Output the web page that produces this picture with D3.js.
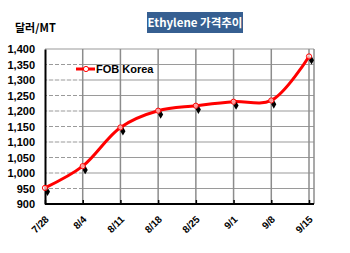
<!DOCTYPE html>
<html>
<head>
<meta charset="utf-8">
<script src="https://cdn.jsdelivr.net/npm/d3@7"></script>
<style>
  body { margin: 0; background: #fff; }
  svg { display: block; font-family: "Liberation Sans", Arial, sans-serif; }
</style>
</head>
<body>
<svg id="chart" width="350" height="253"></svg>
<script>
// chart data
const dates = ['7/28', '8/4', '8/11', '8/18', '8/25', '9/1', '9/8', '9/15'];
const fobKorea = [952, 1022, 1147, 1201, 1217, 1230, 1234, 1376];
const yTicks = [900, 950, 1000, 1050, 1100, 1150, 1200, 1250, 1300, 1350, 1400];

const svg = d3.select('#chart');

// plot area
const plotLeft = 45, plotRight = 309, plotTop = 49, plotBottom = 204, frameRight = 314;

const x = d3.scalePoint().domain(dates).range([plotLeft, plotRight]);
const y = d3.scaleLinear().domain([900, 1400]).range([plotBottom, plotTop]);

// horizontal grid lines
svg.append('g')
    .selectAll('line')
    .data(yTicks.slice(1))
    .enter().append('line')
    .attr('x1', plotLeft).attr('x2', frameRight)
    .attr('y1', d => y(d)).attr('y2', d => y(d))
    .attr('stroke', '#9a9a9a')
    .attr('stroke-width', 1.2);

// dashed look in the first column
svg.append('g')
    .selectAll('line')
    .data(yTicks.slice(1, -1))
    .enter().append('line')
    .attr('x1', plotLeft + 2).attr('x2', x('8/4') - 2)
    .attr('y1', d => y(d)).attr('y2', d => y(d))
    .attr('stroke', '#fff')
    .attr('stroke-width', 1.4)
    .attr('stroke-dasharray', '2,4');

// vertical grid lines
svg.append('g')
    .selectAll('line')
    .data(dates.slice(1))
    .enter().append('line')
    .attr('x1', d => x(d)).attr('x2', d => x(d))
    .attr('y1', plotTop).attr('y2', plotBottom)
    .attr('stroke', '#8c8c8c')
    .attr('stroke-width', 1.5);

// right frame
svg.append('line')
    .attr('x1', frameRight).attr('x2', frameRight)
    .attr('y1', plotTop).attr('y2', plotBottom)
    .attr('stroke', '#8c8c8c')
    .attr('stroke-width', 1.5);

// axes
const yAxis = svg.append('g')
    .attr('transform', `translate(${plotLeft},0)`)
    .call(d3.axisLeft(y).tickValues(yTicks).tickSize(0).tickPadding(10)
        .tickFormat(d3.format(',')));
yAxis.select('.domain').attr('stroke', '#000').attr('stroke-width', 2);
yAxis.selectAll('text')
    .style('font-size', '11px')
    .style('font-weight', 'bold')
    .attr('fill', '#000');

const xAxis = svg.append('g')
    .attr('transform', `translate(0,${plotBottom})`)
    .call(d3.axisBottom(x).tickSize(-4).tickPadding(0));
xAxis.select('.domain').attr('d', `M${plotLeft},0H${frameRight}`)
    .attr('stroke', '#000').attr('stroke-width', 2);
xAxis.selectAll('.tick line').attr('stroke', '#000').attr('stroke-width', 1.5);
xAxis.selectAll('text')
    .attr('y', 0).attr('dy', 0)
    .attr('transform', 'translate(4,16) rotate(-45)')
    .attr('text-anchor', 'end')
    .style('font-size', '10px')
    .style('font-weight', 'bold')
    .attr('fill', '#000');

// smoothed red line
const line = d3.line()
    .x((d, i) => x(dates[i]))
    .y(d => y(d))
    .curve(d3.curveCatmullRom.alpha(0.5));

svg.append('path')
    .datum(fobKorea)
    .attr('fill', 'none')
    .attr('stroke', '#ff0000')
    .attr('stroke-width', 3)
    .attr('d', line);

// black shadow markers
svg.append('g')
    .selectAll('path')
    .data(fobKorea)
    .enter().append('path')
    .attr('d', d3.symbol().type(d3.symbolDiamond).size(22))
    .attr('transform', (d, i) => `translate(${x(dates[i]) + 2.5},${y(d) + 3.8})`)
    .attr('fill', '#000');

// open circle markers
svg.append('g')
    .selectAll('circle')
    .data(fobKorea)
    .enter().append('circle')
    .attr('cx', (d, i) => x(dates[i]))
    .attr('cy', d => y(d))
    .attr('r', 2.6)
    .attr('fill', '#fff')
    .attr('fill-opacity', 0.6)
    .attr('stroke', '#ff0000')
    .attr('stroke-width', 1);

// legend
const legend = svg.append('g').attr('transform', 'translate(76,69)');
legend.append('line')
    .attr('x1', 0).attr('x2', 19)
    .attr('stroke', '#ff0000').attr('stroke-width', 3);
legend.append('circle')
    .attr('cx', 10).attr('r', 2.6)
    .attr('fill', '#fff').attr('stroke', '#ff0000').attr('stroke-width', 1);
legend.append('text')
    .attr('x', 20).attr('dy', '0.35em')
    .style('font-size', '11px')
    .style('font-weight', 'bold')
    .text('FOB Korea');

// unit label
svg.append('text')
    .attr('x', 15).attr('y', 32)
    .style('font-family', '"Noto Sans CJK KR", sans-serif')
    .style('font-size', '11px')
    .style('font-weight', 'bold')
    .text('달러/MT');

// title box
svg.append('rect')
    .attr('x', 147).attr('y', 12)
    .attr('width', 96).attr('height', 21)
    .attr('fill', '#365f91');
svg.append('text')
    .attr('x', 195).attr('y', 22.5)
    .attr('dy', '0.35em')
    .attr('text-anchor', 'middle')
    .attr('fill', '#fff')
    .style('font-family', '"Noto Sans CJK KR", sans-serif')
    .style('font-size', '11.5px')
    .style('font-weight', 'bold')
    .text('Ethylene 가격추이');
</script>
</body>
</html>
